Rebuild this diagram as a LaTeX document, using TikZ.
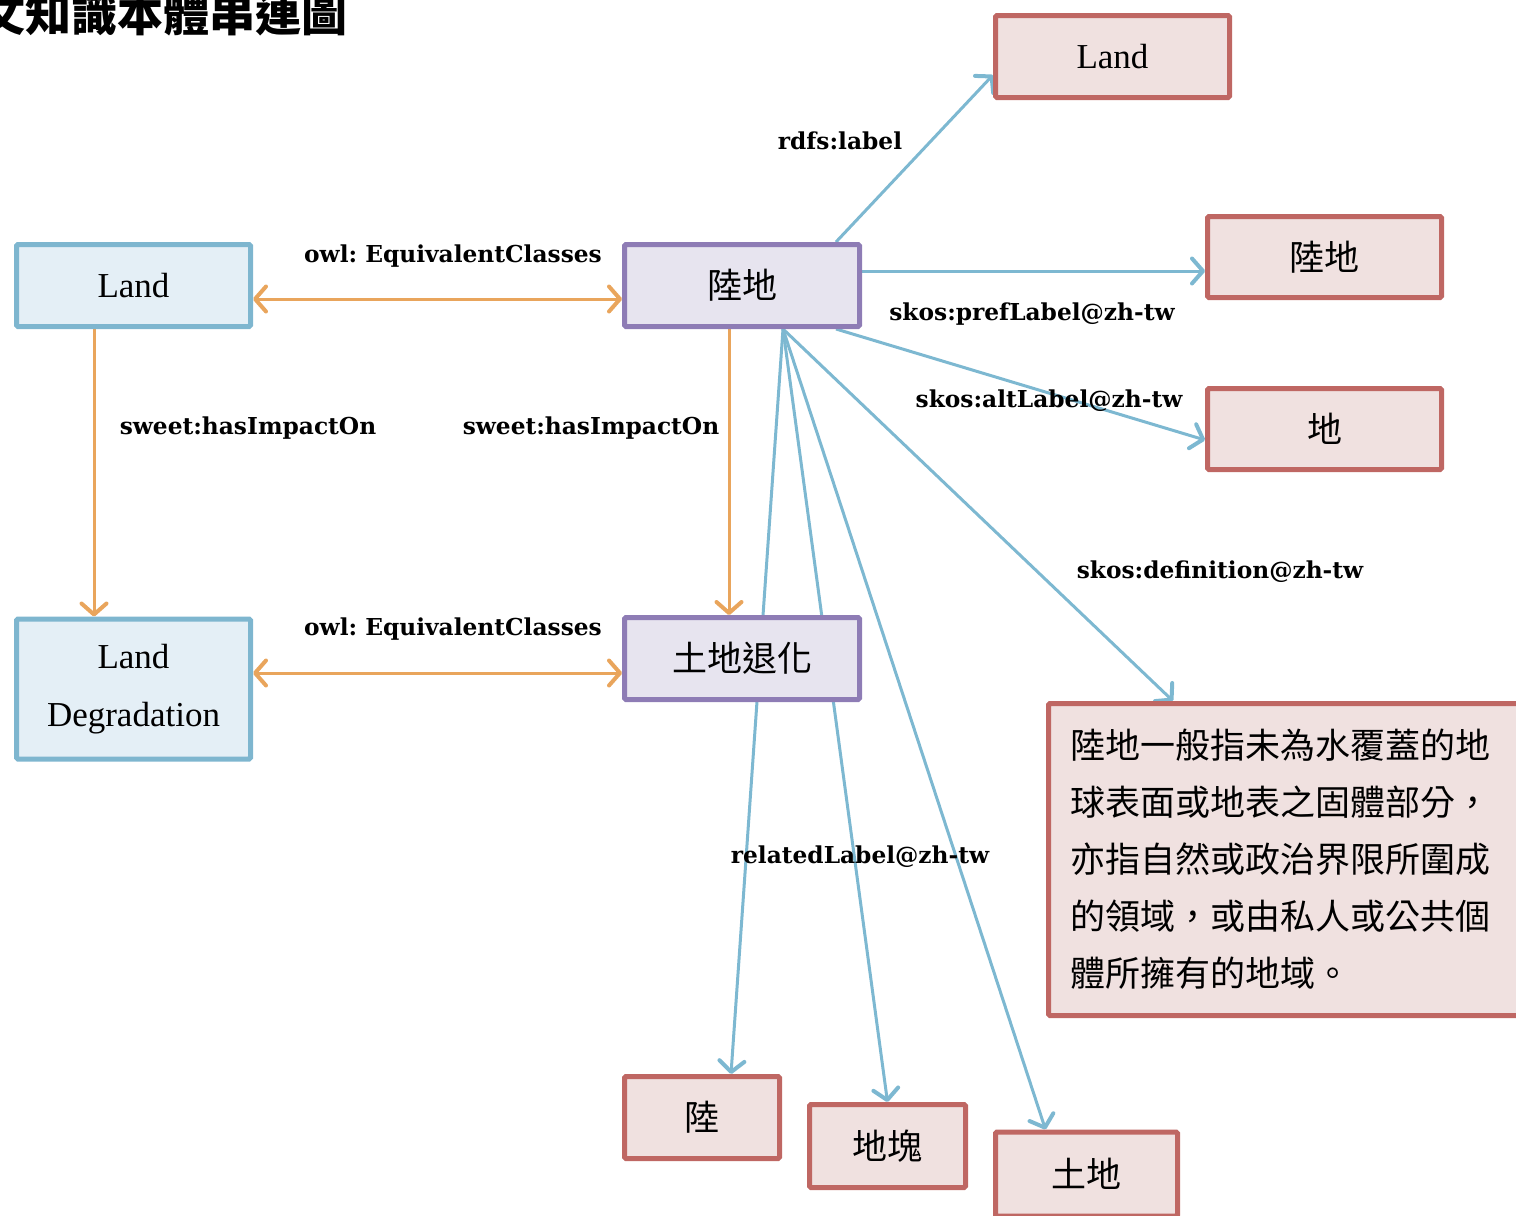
\documentclass[tikz,border=0pt]{standalone}
\usepackage{fontspec}
\setmainfont{Liberation Serif}
\newfontfamily\cjk{Noto Sans CJK TC}
\newfontfamily\lblfont{DejaVu Serif}
\usetikzlibrary{arrows.meta,calc,backgrounds}

\definecolor{blueline}{HTML}{7EB6CF}
\definecolor{bluefill}{HTML}{E4EFF6}
\definecolor{purpleline}{HTML}{8E7CB5}
\definecolor{purplefill}{HTML}{E7E4EF}
\definecolor{redline}{HTML}{BF6763}
\definecolor{redfill}{HTML}{F0E1E0}
\definecolor{orangeconn}{HTML}{E9A55C}
\definecolor{blueconn}{HTML}{7DB8D1}

\tikzset{
  box/.style={draw, line width=5pt, rounded corners=1.5pt, inner sep=0pt,
    align=center, font=\fontsize{35}{58}\selectfont},
  bluebox/.style={box, draw=blueline, fill=bluefill},
  purplebox/.style={box, draw=purpleline, fill=purplefill, font=\cjk\fontsize{35}{58}\selectfont},
  redbox/.style={box, draw=redline, fill=redfill},
  cjkbox/.style={redbox, font=\cjk\fontsize{35}{58}\selectfont},
  lbl/.style={font=\lblfont\bfseries\fontsize{23.3}{28}\selectfont\frenchspacing, inner sep=0pt},
  barb/.tip={Straight Barb[length=11pt,width=25pt,line width=4pt,round]},
  oneway/.style={-barb},
  twoway/.style={barb-barb},
  ora/.style={draw=orangeconn, line width=3pt},
  blu/.style={draw=blueconn, line width=3pt},
}

\begin{document}
\begin{tikzpicture}[x=1pt,y=-1pt]
\useasboundingbox (0,0) rectangle (1516,1216);

% title (runs off the left edge)
\node[anchor=base east, inner sep=0pt, font=\cjk\bfseries\fontsize{46}{46}\selectfont]
  (title) at (348,31) {文知識本體串連圖};

% English classes
\node[bluebox, minimum width=234pt, minimum height=82pt] (landA) at (133.5,285.5) {Land};
\node[bluebox, minimum width=234pt, minimum height=140pt] (landDeg) at (133.5,689)
  {Land\\Degradation};

% Chinese classes
\node[purplebox, minimum width=235pt, minimum height=82pt] (luDi) at (742,285.5) {陸地};
\node[purplebox, minimum width=235pt, minimum height=82pt] (tudiTH) at (742,658.5) {土地退化};

% labels of 陸地
\node[redbox, minimum width=234pt, minimum height=82pt] (landR) at (1112.5,56.5) {Land};
\node[cjkbox, minimum width=234pt, minimum height=81pt] (luDiR) at (1324.5,257) {陸地};
\node[cjkbox, minimum width=234pt, minimum height=81pt] (diR) at (1324.5,429) {地};
\node[cjkbox, minimum width=155pt, minimum height=82pt] (luR) at (702,1117.5) {陸};
\node[cjkbox, minimum width=156pt, minimum height=83pt] (dikuai) at (887.5,1146) {地塊};
\node[cjkbox, minimum width=182pt, minimum height=84pt] (tudi) at (1086.5,1174) {土地};

% definition
\node[redbox, anchor=north west, minimum width=474pt, minimum height=312pt,
  text width=430pt, align=left, font=\cjk\fontsize{35}{57}\selectfont]
  (def) at (1046,701) {陸地一般指未為水覆蓋的地\\球表面或地表之固體部分，\\亦指自然或政治界限所圍成\\的領域，或由私人或公共個\\體所擁有的地域。};

% property labels
\node[lbl] (eq1) at (453,256) {owl: EquivalentClasses};
\node[lbl] (eq2) at (453,629) {owl: EquivalentClasses};
\node[lbl] (imp1) at (248,428) {sweet:hasImpactOn};
\node[lbl] (imp2) at (591,428) {sweet:hasImpactOn};
\node[lbl] (rdfs) at (840,141) {rdfs:label};
\node[lbl] (pref) at (1032,314) {skos:prefLabel@zh-tw};
\node[lbl] (alt) at (1049,401) {skos:altLabel@zh-tw};
\node[lbl] (defl) at (1220,572) {skos:definition@zh-tw};
\node[lbl] (rel) at (860,857) {relatedLabel@zh-tw};

\begin{scope}[on background layer]
  % equivalence and impact relations
  \draw[ora,twoway] ($(landA.east)+(0,13.5)$) -- ($(luDi.west)+(0,13.5)$);
  \draw[ora,twoway] ($(tudiTH.west)+(0,14.5)$) -- ($(landDeg.east |- tudiTH.west)+(0,14.5)$);
  \draw[ora,oneway] ($(landA.south)+(-39.5,0)$) -- ($(landDeg.north)+(-39.5,0)$);
  \draw[ora,oneway] ($(luDi.south)+(-13,0)$) -- ($(tudiTH.north)+(-13,0)$);

  % SKOS / RDFS labels
  \draw[blu,oneway] ($(luDi.north)+(94,0)$) -- ($(landR.west)+(0,18.5)$);
  \draw[blu,oneway] ($(luDi.east)+(0,-14.5)$) -- ($(luDiR.west)+(0,14)$);
  \draw[blu,oneway] ($(luDi.south)+(94,0)$) -- ($(diR.west)+(0,11)$);
  \coordinate (hub) at ($(luDi.south)+(41,0)$);
  \draw[blu,oneway] (hub) -- ($(def.north west)+(127,0)$);
  \draw[blu,oneway] (hub) -- ($(tudi.north)+(-41,0)$);
  \draw[blu,oneway] (hub) -- ($(luR.north)+(29,0)$);
  \draw[blu,oneway] (hub) -- (dikuai.north);
\end{scope}
\end{tikzpicture}
\end{document}
